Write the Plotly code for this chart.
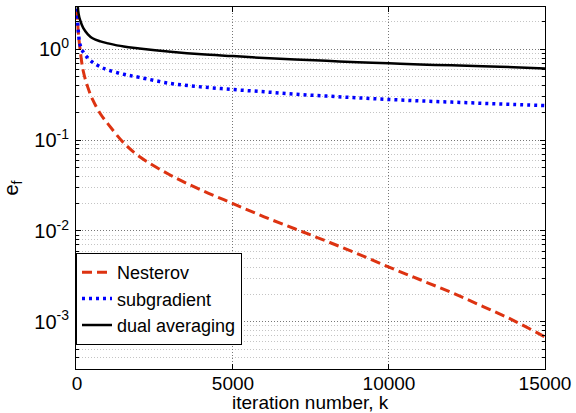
import plotly.graph_objects as go

k = [0, 20, 50, 100, 200, 350, 500, 750, 1000, 1500, 2000, 3000, 4000, 5000,
     6000, 7000, 8000, 9000, 10000, 11000, 12000, 13000, 14000, 15000]

nesterov = [4.0, 2.1, 1.45, 1.0, 0.58, 0.38, 0.28, 0.195, 0.15, 0.093, 0.066, 0.041,
            0.028, 0.02, 0.0143, 0.0105, 0.0077, 0.0056, 0.0040, 0.0029, 0.0021,
            0.00148, 0.00103, 0.00068]

subgradient = [4.0, 2.1, 1.5, 1.12, 0.93, 0.8, 0.72, 0.64, 0.59, 0.53, 0.49, 0.42,
               0.385, 0.36, 0.34, 0.32, 0.305, 0.292, 0.28, 0.27, 0.262, 0.254,
               0.247, 0.24]

dual_avg = [7.0, 3.2, 2.5, 2.1, 1.72, 1.46, 1.32, 1.22, 1.16, 1.07, 1.02, 0.94,
            0.88, 0.84, 0.8, 0.77, 0.745, 0.72, 0.70, 0.68, 0.665, 0.65, 0.635, 0.615]

x_ticks = [0, 5000, 10000, 15000]
x_tick_labels = ["0", "5000", "10000", "15000"]
y_ticks = [1e-3, 1e-2, 1e-1, 1e0]
y_tick_labels = ["10<sup>-3</sup>", "10<sup>-2</sup>", "10<sup>-1</sup>", "10<sup>0</sup>"]
x_title = "iteration number, k"
y_title = "e<sub>f</sub>"

font = "Liberation Sans, Arial, Helvetica, sans-serif"

fig = go.Figure()
fig.add_trace(go.Scatter(x=k, y=nesterov, mode="lines", name="Nesterov",
                         line=dict(color="#dd3311", width=3, dash="10px,5px", shape="spline")))
fig.add_trace(go.Scatter(x=k, y=subgradient, mode="lines", name="subgradient",
                         line=dict(color="#0000ff", width=3.5, dash="3px,4px", shape="spline")))
fig.add_trace(go.Scatter(x=k, y=dual_avg, mode="lines", name="dual averaging",
                         line=dict(color="#000000", width=2.5, shape="spline")))

fig.update_layout(
    width=576, height=413,
    margin=dict(l=76, r=31, t=7, b=44, autoexpand=False),
    paper_bgcolor="white", plot_bgcolor="white",
    font=dict(family=font, size=19, color="black"),
    showlegend=True,
    legend=dict(x=0, y=0.3204, xanchor="left", yanchor="top",
                bordercolor="black", borderwidth=1, bgcolor="white",
                font=dict(family=font, size=18), itemwidth=30,
                tracegroupgap=0),
    annotations=[dict(text=x_title, xref="paper", yref="paper", x=0.5, y=-0.093,
                      xanchor="center", yanchor="middle", showarrow=False,
                      font=dict(family=font, size=19, color="black"))],
)

fig.update_xaxes(
    range=[-30, 15000], tickvals=x_ticks, ticktext=x_tick_labels,
    ticks="inside", ticklen=5, tickcolor="black",
    showline=True, linecolor="black", linewidth=1, mirror="ticks",
    showgrid=True, gridcolor="#777777", griddash="1px,2px", gridwidth=1,
    zeroline=False, ticklabelstandoff=-3, automargin=False,
    tickfont=dict(size=19),
)

fig.update_yaxes(
    type="log", range=[-3.52, 0.465], tickvals=y_ticks, ticktext=y_tick_labels,
    ticks="inside", ticklen=5, tickcolor="black",
    showline=True, linecolor="black", linewidth=1, mirror="ticks",
    showgrid=True, gridcolor="#777777", griddash="1px,2px", gridwidth=1,
    zeroline=False, ticklabelstandoff=2, automargin=False,
    minor=dict(dtick="D1", ticks="inside", ticklen=3, tickcolor="black",
               showgrid=True, gridcolor="#c4c4c4", griddash="1px,2px"),
    title=dict(text=y_title, font=dict(size=20)),
    tickfont=dict(size=20),
)

fig.write_html("out.html")
